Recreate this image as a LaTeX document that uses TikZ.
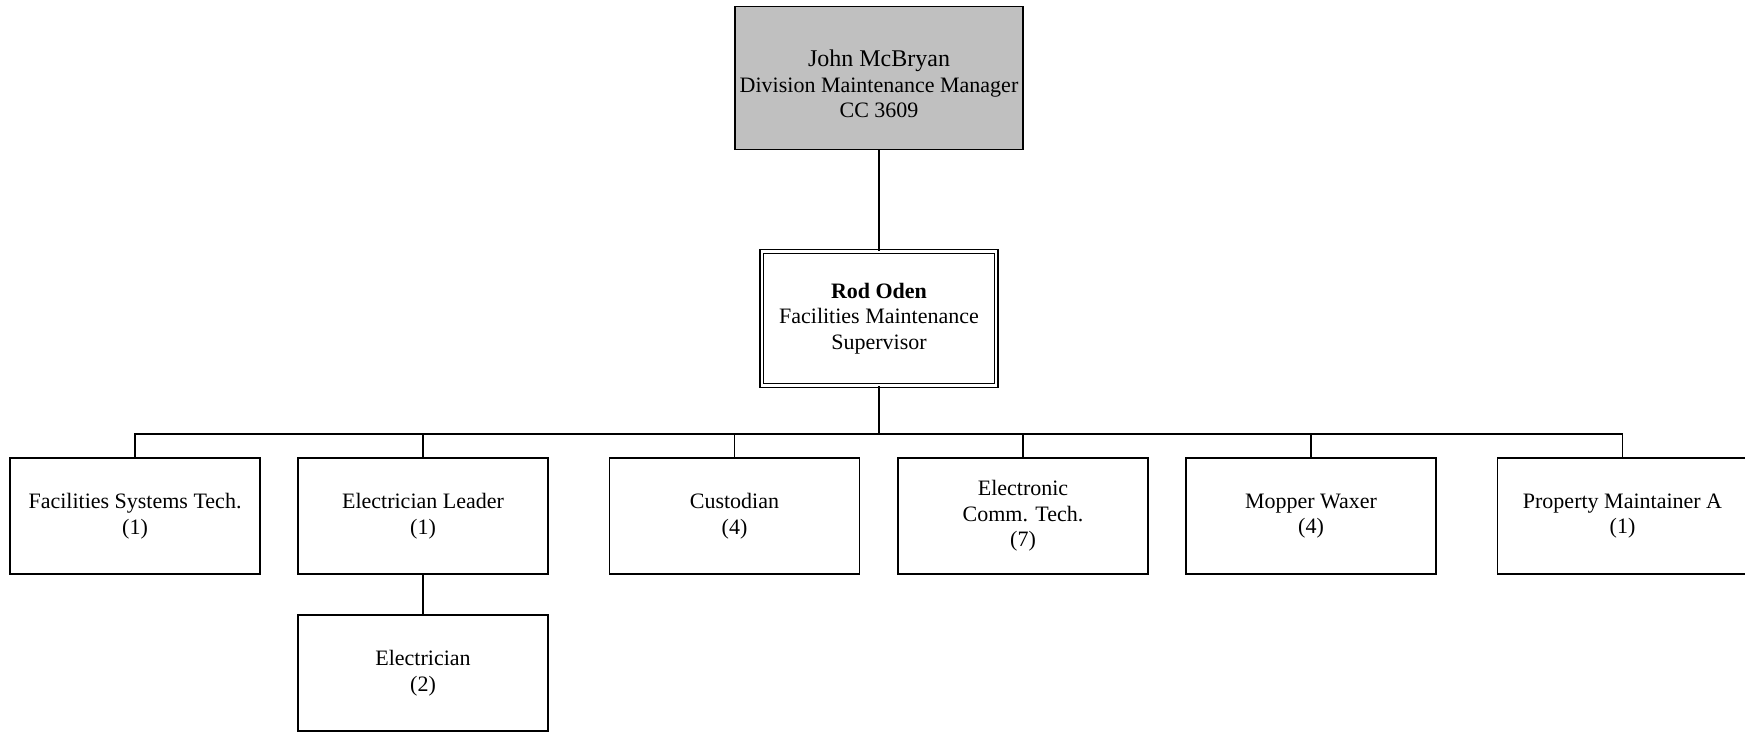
\documentclass[tikz,border=0pt]{standalone}
\usepackage{fontspec}
\setmainfont{Liberation Serif}
\begin{document}
\begin{tikzpicture}[x=1pt,y=-1pt,
  box/.style={draw=black, line width=1.6pt, fill=white, align=center, inner sep=0pt,
    minimum width=250pt, minimum height=116pt, font=\fontsize{22}{25.5}\selectfont},
  link/.style={draw=black, line width=1.6pt}]
\useasboundingbox (0,0) rectangle (1745,731);
\node[box, fill={rgb,255:red,192;green,192;blue,192}, minimum width=288pt, minimum height=143pt] (mgr) at (879,78) {};
\node[align=center, inner sep=0pt, font=\fontsize{22}{25.5}\selectfont] (mgrtext) at (879,84)
  {{\fontsize{24}{25.5}\selectfont John McBryan}\\Division Maintenance Manager\\CC 3609};
\node[box, double, double distance=2.2pt, line width=1.3pt, minimum width=234.5pt, minimum height=134pt] (sup) at (879,318.5)
  {\textbf{Rod Oden}\\Facilities Maintenance\\Supervisor};
\node[box] (c1) at (135,516) {Facilities Systems Tech.\\(1)};
\node[box] (c2) at (423,516) {Electrician Leader\\(1)};
\node[box] (c3) at (734.5,516) {Custodian\\(4)};
\node[box] (c4) at (1023,516) {Electronic\\Comm. Tech.\\(7)};
\node[box] (c5) at (1311,516) {Mopper Waxer\\(4)};
\node[box] (c6) at (1622.5,516) {Property Maintainer A\\(1)};
\node[box] (e1) at (423,673) {Electrician\\(2)};
\coordinate (bar) at (879,434);
\draw[link] (mgr.south) -- (sup.north);
\draw[link] (sup.south) -- (bar);
\draw[link] (c1.north) -- (c1.north |- bar) -- (c6.north |- bar) -- (c6.north);
\draw[link] (c2.north) -- (c2.north |- bar);
\draw[link] (c3.north) -- (c3.north |- bar);
\draw[link] (c4.north) -- (c4.north |- bar);
\draw[link] (c5.north) -- (c5.north |- bar);
\draw[link] (c2.south) -- (e1.north);
\end{tikzpicture}
\end{document}
